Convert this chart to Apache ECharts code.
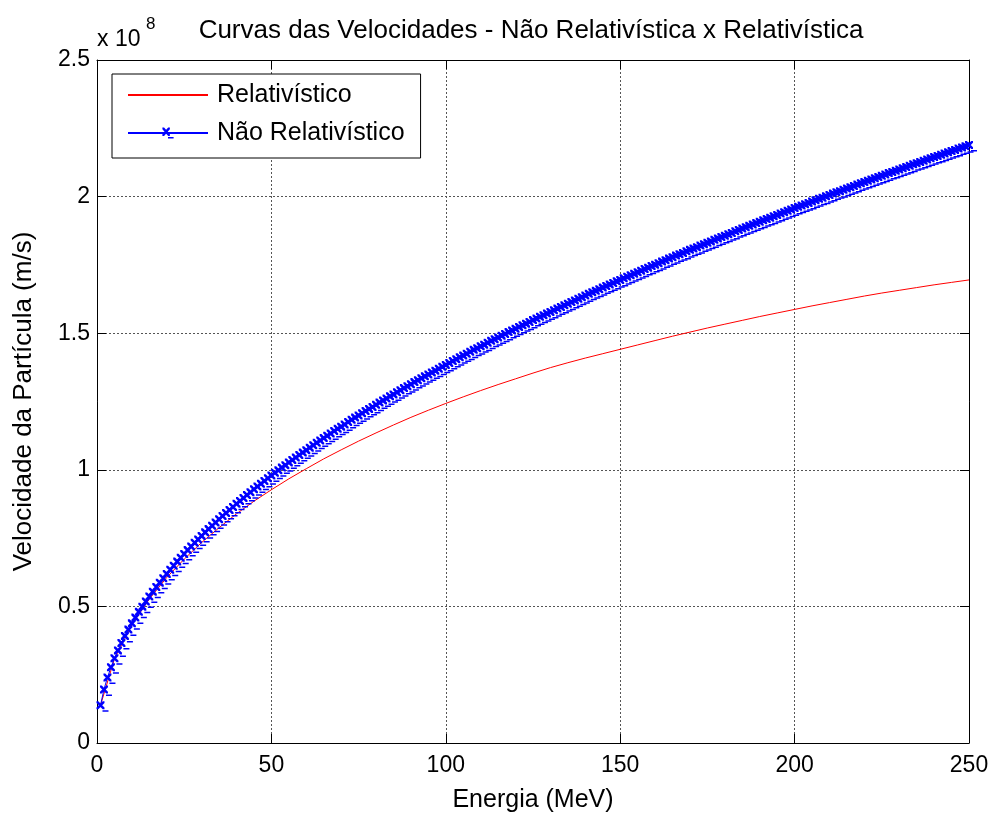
<!DOCTYPE html>
<html>
<head>
<meta charset="utf-8">
<script src="https://cdn.jsdelivr.net/npm/echarts@6/dist/echarts.min.js"></script>
<style>
  html, body { margin: 0; padding: 0; background: #fff; }
  #chart { width: 992px; height: 815px; }
</style>
</head>
<body>
<div id="chart"></div>
<script>
// velocities in units of 1e8 m/s
const relEnergy = [1, 5, 10, 15, 20, 25, 30, 35, 40, 45, 50, 55, 60, 65, 70, 75, 80, 85, 90, 95,
  100, 105, 110, 115, 120, 125, 130, 135, 140, 145, 150, 155, 160, 165, 170, 175, 180, 185, 190, 195,
  200, 205, 210, 215, 220, 225, 230, 235, 240, 245, 250]
const relSpeed = [0.138, 0.308, 0.433, 0.527, 0.606, 0.673, 0.734, 0.788, 0.839, 0.885,
  0.927, 0.967, 1.004, 1.040, 1.073, 1.105, 1.135, 1.164, 1.192, 1.218,
  1.243, 1.267, 1.290, 1.312, 1.333, 1.354, 1.374, 1.392, 1.409, 1.425,
  1.441, 1.457, 1.473, 1.489, 1.504, 1.519, 1.533, 1.547, 1.561, 1.574,
  1.587, 1.600, 1.612, 1.624, 1.636, 1.647, 1.657, 1.667, 1.677, 1.686, 1.695]

// one sample per MeV, 1..250
const nonRelEnergy = Array.from({ length: 250 }, (_, i) => i + 1)
const nonRelSpeed = [
  0.138, 0.196, 0.240, 0.277, 0.310, 0.339, 0.366, 0.392, 0.415, 0.438,
  0.459, 0.480, 0.499, 0.518, 0.536, 0.554, 0.571, 0.587, 0.603, 0.619,
  0.634, 0.649, 0.664, 0.678, 0.692, 0.706, 0.719, 0.733, 0.745, 0.758,
  0.771, 0.783, 0.795, 0.807, 0.819, 0.831, 0.842, 0.853, 0.864, 0.876,
  0.886, 0.897, 0.908, 0.918, 0.929, 0.939, 0.949, 0.959, 0.969, 0.979,
  0.989, 0.998, 1.008, 1.017, 1.027, 1.036, 1.045, 1.054, 1.063, 1.072,
  1.081, 1.090, 1.099, 1.107, 1.116, 1.125, 1.133, 1.142, 1.150, 1.158,
  1.166, 1.175, 1.183, 1.191, 1.199, 1.207, 1.215, 1.223, 1.230, 1.238,
  1.246, 1.254, 1.261, 1.269, 1.276, 1.284, 1.291, 1.299, 1.306, 1.313,
  1.321, 1.328, 1.335, 1.342, 1.349, 1.356, 1.363, 1.370, 1.377, 1.384,
  1.391, 1.398, 1.405, 1.412, 1.418, 1.425, 1.432, 1.439, 1.445, 1.452,
  1.458, 1.465, 1.472, 1.478, 1.484, 1.491, 1.497, 1.504, 1.510, 1.516,
  1.523, 1.529, 1.535, 1.541, 1.548, 1.554, 1.560, 1.566, 1.572, 1.578,
  1.584, 1.590, 1.596, 1.602, 1.608, 1.614, 1.620, 1.626, 1.632, 1.638,
  1.644, 1.650, 1.655, 1.661, 1.667, 1.673, 1.678, 1.684, 1.690, 1.695,
  1.701, 1.707, 1.712, 1.718, 1.723, 1.729, 1.735, 1.740, 1.746, 1.751,
  1.756, 1.762, 1.767, 1.773, 1.778, 1.784, 1.789, 1.794, 1.800, 1.805,
  1.810, 1.815, 1.821, 1.826, 1.831, 1.836, 1.842, 1.847, 1.852, 1.857,
  1.862, 1.867, 1.873, 1.878, 1.883, 1.888, 1.893, 1.898, 1.903, 1.908,
  1.913, 1.918, 1.923, 1.928, 1.933, 1.938, 1.943, 1.948, 1.953, 1.958,
  1.963, 1.967, 1.972, 1.977, 1.982, 1.987, 1.992, 1.996, 2.001, 2.006,
  2.011, 2.016, 2.020, 2.025, 2.030, 2.034, 2.039, 2.044, 2.049, 2.053,
  2.058, 2.063, 2.067, 2.072, 2.076, 2.081, 2.086, 2.090, 2.095, 2.099,
  2.104, 2.108, 2.113, 2.118, 2.122, 2.127, 2.131, 2.136, 2.140, 2.145,
  2.149, 2.153, 2.158, 2.162, 2.167, 2.171, 2.176, 2.180, 2.184, 2.189
]

const xTicks = { min: 0, max: 250, interval: 50 }
const yTicks = { min: 0, max: 2.5, interval: 0.5 }

const FONT = '"Liberation Sans", Arial, sans-serif'

// x marker (8px) with the little dash under its right arm
const xMarker = 'path://M0,0L1.8,0L8,6.2L8,8L6.2,8L0,1.8Z' +
  'M8,0L8,1.8L1.8,8L0,8L0,6.2L6.2,0Z' +
  'M6,9L12,9L12,10.5L6,10.5Z'

const chart = echarts.init(document.getElementById('chart'))

const boxAxis = (position) => ({
  type: 'value',
  position,
  axisLine: { show: true, onZero: false, lineStyle: { color: '#000', width: 1 } },
  axisTick: { show: true, inside: true, length: 9, lineStyle: { color: '#000' } },
  axisLabel: { show: false },
  splitLine: { show: false }
})

const gridLine = { show: true, lineStyle: { color: '#555', width: 1, type: [2, 2] } }

chart.setOption({
  backgroundColor: '#fff',
  animation: false,
  title: {
    text: 'Curvas das Velocidades - Não Relativística x Relativística',
    left: 531,
    textAlign: 'center',
    top: 18,
    padding: 0,
    textStyle: { fontFamily: FONT, fontSize: 26, fontWeight: 'normal', color: '#000' }
  },
  grid: { left: 97, right: 23, top: 60, bottom: 72, outerBoundsMode: 'none' },
  legend: {
    orient: 'vertical',
    left: 112,
    top: 74,
    padding: [6, 16, 10, 15],
    itemWidth: 80,
    itemHeight: 14,
    itemGap: 8,
    backgroundColor: '#fff',
    borderColor: '#000',
    borderWidth: 1,
    borderRadius: 0,
    textStyle: { fontFamily: FONT, fontSize: 25, color: '#000', lineHeight: 30, padding: [0, 0, 0, 4] },
    data: [
      { name: 'Relativístico', itemStyle: { opacity: 0 } },
      { name: 'Não Relativístico' }
    ]
  },
  graphic: [
    { type: 'text', left: 97, top: 28, style: { text: 'x 10', font: '23px ' + FONT, fill: '#000' } },
    { type: 'text', left: 146, top: 16, style: { text: '8', font: '17px ' + FONT, fill: '#000' } }
  ],
  xAxis: [
    {
      type: 'value',
      ...xTicks,
      position: 'bottom',
      name: 'Energia (MeV)',
      nameLocation: 'middle',
      nameGap: 45,
      nameTextStyle: { fontFamily: FONT, fontSize: 25, color: '#000', verticalAlign: 'top' },
      axisLine: { show: true, onZero: false, lineStyle: { color: '#000', width: 1 } },
      axisTick: { show: true, inside: true, length: 9, lineStyle: { color: '#000' } },
      axisLabel: { fontFamily: FONT, fontSize: 23, color: '#000', margin: 11 },
      splitLine: gridLine
    },
    { ...boxAxis('top'), ...xTicks }
  ],
  yAxis: [
    {
      type: 'value',
      ...yTicks,
      position: 'left',
      name: 'Velocidade da Partícula (m/s)',
      nameLocation: 'middle',
      nameGap: 60,
      nameTextStyle: { fontFamily: FONT, fontSize: 26, color: '#000' },
      axisLine: { show: true, onZero: false, lineStyle: { color: '#000', width: 1 } },
      axisTick: { show: true, inside: true, length: 9, lineStyle: { color: '#000' } },
      axisLabel: { fontFamily: FONT, fontSize: 23, color: '#000', margin: 7 },
      splitLine: gridLine
    },
    { ...boxAxis('right'), ...yTicks }
  ],
  series: [
    {
      name: 'Relativístico',
      type: 'line',
      symbol: 'none',
      lineStyle: { color: '#ff0000', width: 1 },
      itemStyle: { color: '#ff0000' },
      data: relEnergy.map((e, i) => [e, relSpeed[i]]),
      z: 2
    },
    {
      name: 'Não Relativístico',
      type: 'line',
      symbol: xMarker,
      symbolSize: [12, 10.5],
      symbolOffset: [2, 1.25],
      showAllSymbol: true,
      lineStyle: { color: '#0000ff', width: 1 },
      itemStyle: { color: '#0000ff', borderWidth: 0 },
      data: nonRelEnergy.map((e, i) => [e, nonRelSpeed[i]]),
      z: 3
    }
  ]
})
</script>
</body>
</html>
